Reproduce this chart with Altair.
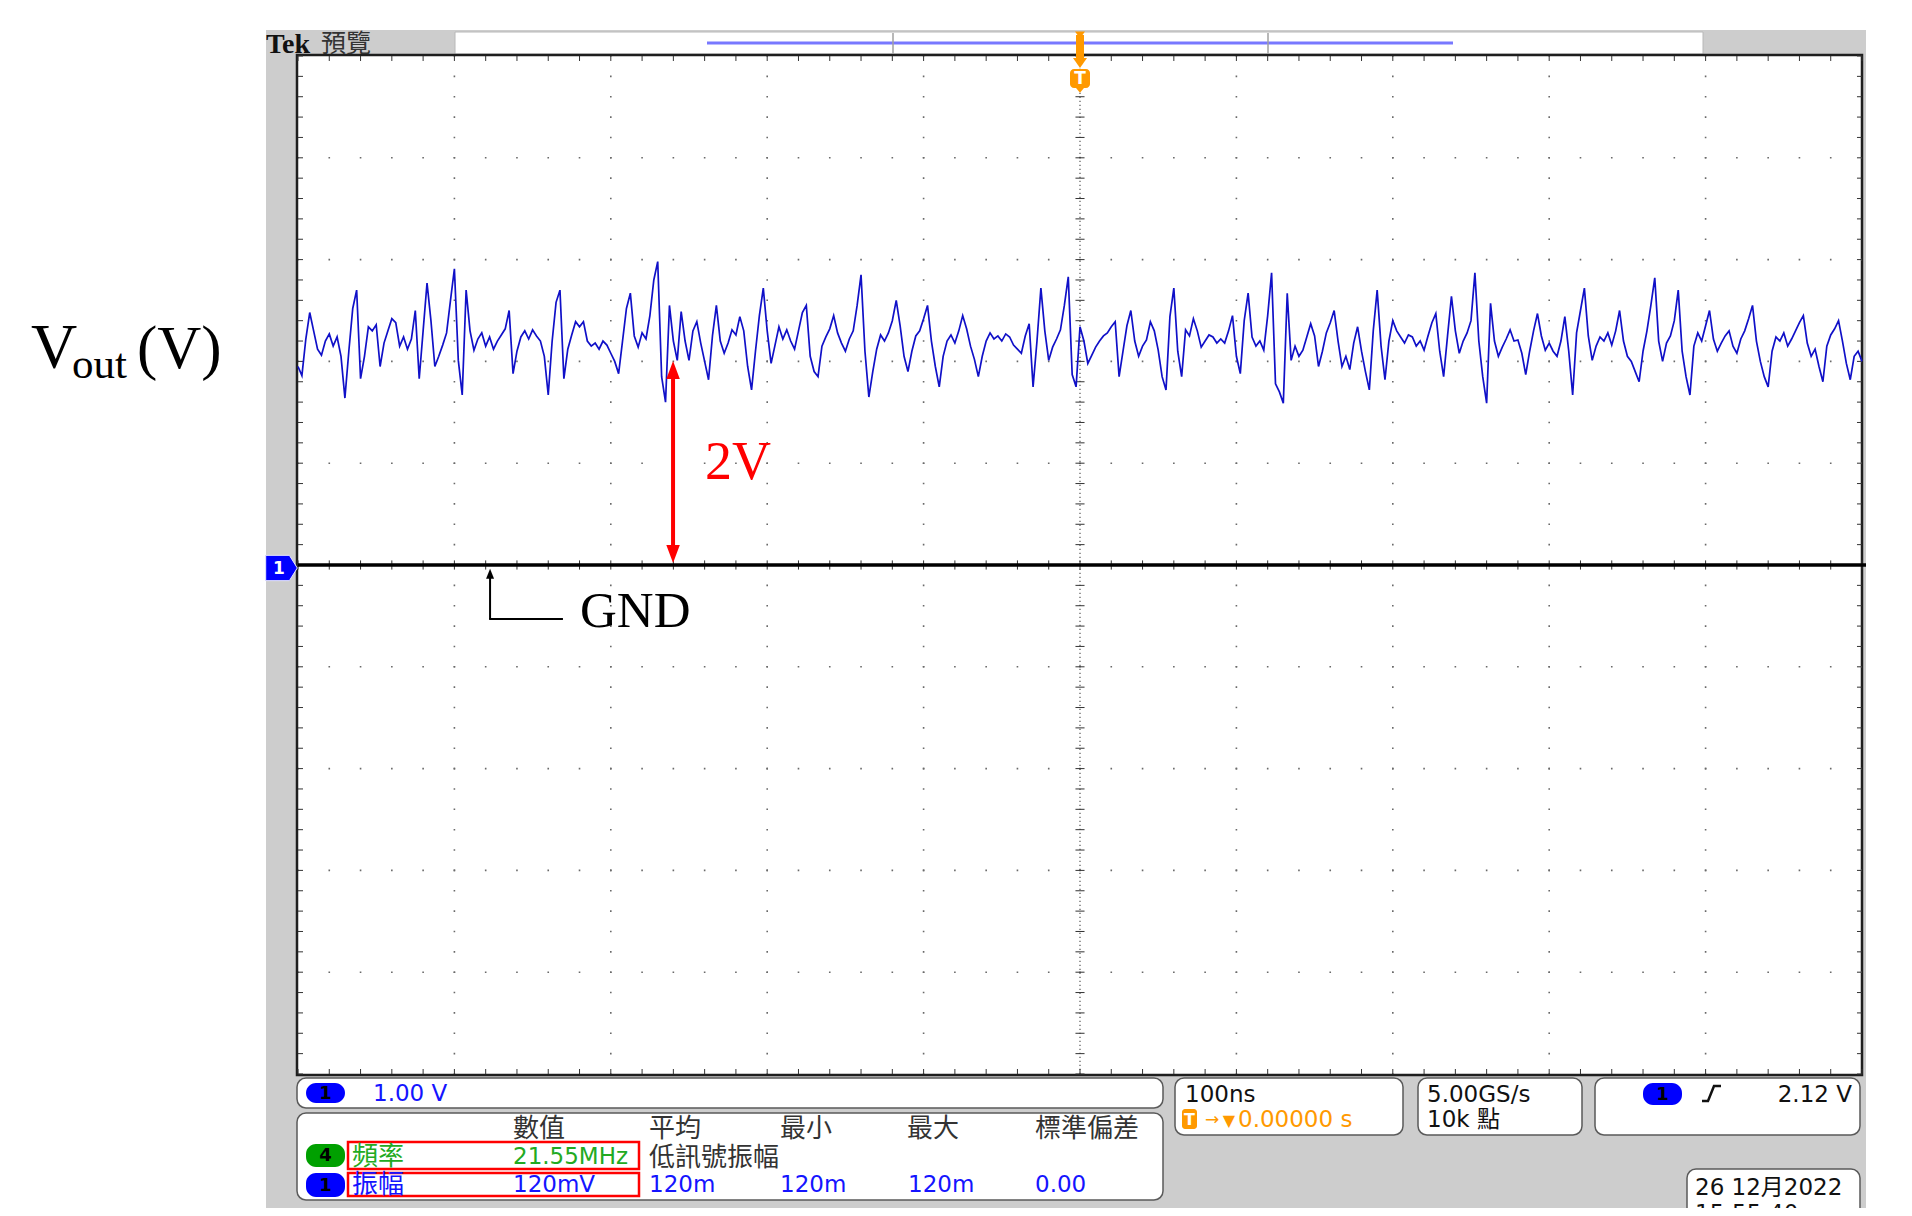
import altair as alt
import pandas as pd

# ---------------- data ----------------
SAMPLE_STEP_NS = 2.5          # displayed record decimated to 2.5 ns / point
T_START_NS = -500             # 10 div x 100 ns, trigger at centre
VOUT_V = [
    1.95, 1.86, 2.22, 2.48, 2.30, 2.12, 2.06, 2.20, 2.27, 2.15,
    2.24, 2.05, 1.64, 2.10, 2.52, 2.70, 1.83, 2.05, 2.34, 2.30,
    2.36, 1.95, 2.18, 2.30, 2.42, 2.38, 2.15, 2.24, 2.12, 2.22,
    2.50, 1.83, 2.30, 2.77, 2.40, 1.95, 2.05, 2.16, 2.28, 2.60,
    2.91, 2.01, 1.67, 2.70, 2.30, 2.11, 2.22, 2.28, 2.15, 2.24,
    2.12, 2.20, 2.26, 2.32, 2.50, 1.88, 2.10, 2.24, 2.30, 2.22,
    2.31, 2.25, 2.20, 2.05, 1.67, 2.20, 2.58, 2.70, 1.83, 2.12,
    2.26, 2.39, 2.34, 2.39, 2.20, 2.15, 2.18, 2.12, 2.20, 2.16,
    2.08, 2.00, 1.88, 2.20, 2.52, 2.67, 2.25, 2.14, 2.28, 2.22,
    2.45, 2.80, 2.98, 1.85, 1.60, 2.55, 2.20, 2.01, 2.49, 2.20,
    2.01, 2.30, 2.39, 2.18, 2.00, 1.82, 2.25, 2.55, 2.20, 2.08,
    2.18, 2.31, 2.26, 2.44, 2.30, 1.95, 1.72, 2.10, 2.45, 2.72,
    2.30, 1.98, 2.16, 2.34, 2.22, 2.31, 2.20, 2.12, 2.30, 2.48,
    2.55, 2.05, 1.90, 1.85, 2.15, 2.24, 2.32, 2.45, 2.28, 2.18,
    2.10, 2.22, 2.30, 2.55, 2.85, 2.10, 1.65, 1.90, 2.12, 2.26,
    2.20, 2.28, 2.40, 2.60, 2.35, 2.05, 1.90, 2.10, 2.25, 2.30,
    2.42, 2.55, 2.20, 1.95, 1.75, 2.05, 2.20, 2.26, 2.18, 2.30,
    2.45, 2.32, 2.15, 2.02, 1.85, 2.05, 2.20, 2.28, 2.22, 2.25,
    2.20, 2.27, 2.24, 2.16, 2.12, 2.08, 2.25, 2.37, 1.75, 2.20,
    2.72, 2.30, 2.01, 2.14, 2.22, 2.31, 2.55, 2.83, 1.87, 1.75,
    2.34, 2.20, 1.98, 2.06, 2.14, 2.20, 2.25, 2.28, 2.34, 2.39,
    1.85, 2.10, 2.35, 2.50, 2.20, 2.05, 2.15, 2.21, 2.39, 2.30,
    2.11, 1.85, 1.72, 2.44, 2.72, 2.10, 1.85, 2.31, 2.25, 2.42,
    2.30, 2.14, 2.20, 2.26, 2.24, 2.18, 2.22, 2.18, 2.30, 2.45,
    2.05, 1.88, 2.40, 2.67, 2.24, 2.15, 2.20, 2.11, 2.45, 2.87,
    1.78, 1.70, 1.59, 2.67, 2.01, 2.15, 2.05, 2.11, 2.24, 2.37,
    2.25, 1.95, 2.10, 2.28, 2.38, 2.50, 2.20, 1.95, 2.05, 1.92,
    2.18, 2.34, 2.10, 1.90, 1.72, 2.30, 2.70, 2.15, 1.82, 2.20,
    2.40, 2.30, 2.24, 2.18, 2.26, 2.24, 2.15, 2.20, 2.11, 2.25,
    2.38, 2.47, 2.10, 1.85, 2.25, 2.64, 2.30, 2.08, 2.20, 2.28,
    2.40, 2.87, 2.20, 1.85, 1.59, 2.57, 2.20, 2.05, 2.14, 2.22,
    2.31, 2.20, 2.21, 2.08, 1.87, 2.10, 2.30, 2.47, 2.25, 2.11,
    2.18, 2.10, 2.05, 2.20, 2.44, 2.10, 1.67, 2.28, 2.50, 2.72,
    2.25, 2.01, 2.15, 2.24, 2.20, 2.28, 2.16, 2.30, 2.50, 2.20,
    2.05, 2.00, 1.90, 1.80, 2.10, 2.30, 2.55, 2.82, 2.20, 2.00,
    2.18, 2.25, 2.40, 2.70, 2.10, 1.85, 1.67, 2.15, 2.28, 2.20,
    2.35, 2.50, 2.22, 2.10, 2.18, 2.25, 2.30, 2.15, 2.08, 2.22,
    2.30, 2.42, 2.55, 2.20, 2.00, 1.85, 1.75, 2.10, 2.24, 2.20,
    2.28, 2.15, 2.22, 2.30, 2.38, 2.45, 2.18, 2.05, 2.12, 1.95,
    1.80, 2.15, 2.26, 2.32, 2.40, 2.20, 1.98, 1.82, 2.05, 2.10,
    2.00,
]
TIME_NS = [T_START_NS + i * SAMPLE_STEP_NS for i in range(len(VOUT_V))]

GND_V = 0.0
LABEL_2V = "2V"
LABEL_GND = "GND"
YLABEL = ["V", "out", "(V)"]
TOP_LABEL = ["Tek", "預覽"]
CH_SCALE = "1.00 V"
MEAS_HEADERS = ["數值", "平均", "最小", "最大", "標準偏差"]
FREQ_ROW = ["頻率", "21.55MHz", "低訊號振幅"]
AMP_ROW = ["振幅", "120mV", "120m", "120m", "120m", "0.00"]
TIMEBASE = ["100ns", "0.00000 s"]
SAMPLING = ["5.00GS/s", "10k 點"]
TRIG_LEVEL = "2.12 V"
DATE_TIME = ["26 12月2022", "15:55:40"]

# ---------------- layout ----------------
W, H = 1564, 1018
OX, OY = 298, 56            # page position of the graticule


def P(X):
    return X - OX


def Q(Y):
    return Y - OY


XS = alt.Scale(domain=[-500, 500], nice=False, zero=False)
YS = alt.Scale(domain=[-5, 5], nice=False, zero=False)


def dx(f):
    return alt.X(f, type="quantitative", scale=XS, axis=None)


def dy(f):
    return alt.Y(f, type="quantitative", scale=YS, axis=None)


def pxe(f):
    return alt.X(f, type="quantitative", scale=None, axis=None)


def pye(f):
    return alt.Y(f, type="quantitative", scale=None, axis=None)


def rects(rows, radius=0, **mk):
    df = pd.DataFrame(rows, columns=["x", "x2", "y", "y2", "fill"])
    df["x"] = df["x"].map(P)
    df["x2"] = df["x2"].map(P)
    df["y"] = df["y"].map(Q)
    df["y2"] = df["y2"].map(Q)
    return alt.Chart(df).mark_rect(cornerRadius=radius, **mk).encode(
        x=pxe("x"), x2=alt.X2("x2"), y=pye("y"), y2=alt.Y2("y2"),
        fill=alt.Fill("fill:N", scale=None))


def texts(rows, font, align="left", weight="normal", baseline="alphabetic"):
    df = pd.DataFrame(rows, columns=["text", "x", "y", "color", "size"])
    df["x"] = df["x"].map(P)
    df["y"] = df["y"].map(Q)
    return alt.Chart(df).mark_text(font=font, align=align, baseline=baseline,
                                   fontWeight=weight).encode(
        x=pxe("x"), y=pye("y"), text="text:N",
        color=alt.Color("color:N", scale=None),
        size=alt.Size("size:Q", scale=None))


def prules(rows, **mk):
    df = pd.DataFrame(rows, columns=["x", "x2", "y", "y2"])
    df["x"] = df["x"].map(P)
    df["x2"] = df["x2"].map(P)
    df["y"] = df["y"].map(Q)
    df["y2"] = df["y2"].map(Q)
    return alt.Chart(df).mark_rule(**mk).encode(
        x=pxe("x"), x2=alt.X2("x2"), y=pye("y"), y2=alt.Y2("y2"))


def ppoint(X, Y, shape, size, color, **mk):
    df = pd.DataFrame({"x": [P(X)], "y": [Q(Y)]})
    return alt.Chart(df).mark_point(shape=shape, size=size, filled=True,
                                    color=color, opacity=1, **mk).encode(
        x=pxe("x"), y=pye("y"))


GRAY = "#cdcdcd"
BLUE = "#1414ff"
GREEN = "#22aa22"
ORANGE = "#ff9900"
DARK = "#111111"
MID = "#333333"
PANEL_FONT = "DejaVu Sans, Noto Sans CJK TC"
CJK_FONT = "Noto Sans CJK TC"
SERIF = "Liberation Serif"

layers = []

# frame
layers.append(rects([(266, 1866, 30, 1214, GRAY)]))
layers.append(rects([(455, 1703, 32, 54, "#ffffff")], stroke="#b8b8b8", strokeWidth=1))
layers.append(rects([(297, 1862, 55, 1075, "#ffffff")], stroke="#1e1e1e", strokeWidth=2.5))

# graticule: dotted division lines
GRID_T = [-400, -300, -200, -100, 100, 200, 300, 400]
GRID_V = [-4, -3, -2, -1, 1, 2, 3, 4]
vg = pd.DataFrame({"t": GRID_T, "v1": -5, "v2": 5})
layers.append(alt.Chart(vg).mark_rule(color="#6a6a6a", strokeWidth=1.6,
                                      strokeDash=[1.6, 18.76], strokeDashOffset=0.8)
              .encode(x=dx("t"), y=dy("v1"), y2=alt.Y2("v2")))
hg = pd.DataFrame({"v": GRID_V, "t1": -500, "t2": 500})
layers.append(alt.Chart(hg).mark_rule(color="#6a6a6a", strokeWidth=1.6,
                                      strokeDash=[1.6, 29.68], strokeDashOffset=0.8)
              .encode(y=dy("v"), x=dx("t1"), x2=alt.X2("t2")))
cg = pd.DataFrame({"t": [0], "v1": [-5], "v2": [5]})
layers.append(alt.Chart(cg).mark_rule(color="#555555", strokeWidth=1.2, strokeDash=[1.2, 2.8])
              .encode(x=dx("t"), y=dy("v1"), y2=alt.Y2("v2")))

TICK_T = [-500 + 20 * k for k in range(51)]
TICK_V = [round(-5 + 0.2 * k, 2) for k in range(51)]
tick_rows_v = []   # vertical ticks (along horizontal edges / centre line)
for t in TICK_T:
    tick_rows_v.append((t, 5.0, 4.951))
    tick_rows_v.append((t, -5.0, -4.951))
    tick_rows_v.append((t, -0.045, 0.045))
tv = pd.DataFrame(tick_rows_v, columns=["t", "v1", "v2"])
layers.append(alt.Chart(tv).mark_rule(color="#333333", strokeWidth=1)
              .encode(x=dx("t"), y=dy("v1"), y2=alt.Y2("v2")))
tick_rows_h = []
for v in TICK_V:
    tick_rows_h.append((v, -500.0, -496.8))
    tick_rows_h.append((v, 500.0, 496.8))
    tick_rows_h.append((v, -2.9, 2.9))
th = pd.DataFrame(tick_rows_h, columns=["v", "t1", "t2"])
layers.append(alt.Chart(th).mark_rule(color="#333333", strokeWidth=1)
              .encode(y=dy("v"), x=dx("t1"), x2=alt.X2("t2")))

# waveform
wave = pd.DataFrame({"t": TIME_NS, "v": VOUT_V})
layers.append(alt.Chart(wave).mark_line(color="#1010c8", strokeWidth=1.7)
              .encode(x=dx("t"), y=dy("v")))

# GND / channel 1 reference line
layers.append(alt.Chart(pd.DataFrame({"v": [GND_V]})).mark_rule(color="#000000", strokeWidth=3.5)
              .encode(y=dy("v"), x=alt.value(0), x2=alt.value(P(1866))))

# channel 1 marker
PENT = "M -1 -0.8 L 0.5 -0.8 L 1 0 L 0.5 0.8 L -1 0.8 Z"
layers.append(ppoint(281.5, 568, PENT, 1000, "#0000ff", stroke="#e8e8ff", strokeWidth=1))
layers.append(texts([("1", 279, 569, "#ffffff", 17)], "DejaVu Sans", align="center",
                    weight="bold", baseline="middle"))

# top strip
layers.append(prules([(707, 1453, 43, 43)], color="#7878ff", strokeWidth=3))
layers.append(prules([(893, 893, 33, 54), (1268, 1268, 33, 54)], color="#a0a0a0", strokeWidth=1.5))
layers.append(texts([(TOP_LABEL[0], 266, 53, DARK, 28)], SERIF, weight="bold"))
layers.append(texts([(TOP_LABEL[1], 321, 52, MID, 25)], CJK_FONT))

# trigger position marker
layers.append(ppoint(1080, 35, "M -1 -0.7 L 1 -0.7 L 0 0.7 Z", 100, ORANGE))
layers.append(rects([(1076, 1084, 35, 59, ORANGE)]))
layers.append(ppoint(1080, 63, "M -1 -0.7 L 1 -0.7 L 0 0.7 Z", 196, ORANGE))
layers.append(rects([(1070, 1090, 69, 88, ORANGE)], radius=4))
layers.append(ppoint(1080, 89, "M -1 -0.5 L 1 -0.5 L 0 0.7 Z", 110, ORANGE))
layers.append(texts([("T", 1080, 79, "#ffffff", 17)], "DejaVu Sans", align="center",
                    weight="bold", baseline="middle"))

# red 2V arrow
ta = -260.2
layers.append(alt.Chart(pd.DataFrame({"t": [ta], "v1": [0.12], "v2": [1.9]}))
              .mark_rule(color="#ff0000", strokeWidth=4)
              .encode(x=dx("t"), y=dy("v1"), y2=alt.Y2("v2")))
heads = pd.DataFrame({"t": [ta], "v": [1.915]})
layers.append(alt.Chart(heads).mark_point(shape="M 0 -1 L 0.75 1 L -0.75 1 Z", size=324,
                                          filled=True, color="#ff0000", opacity=1)
              .encode(x=dx("t"), y=dy("v")))
heads2 = pd.DataFrame({"t": [ta], "v": [0.108]})
layers.append(alt.Chart(heads2).mark_point(shape="M 0 1 L 0.75 -1 L -0.75 -1 Z", size=324,
                                           filled=True, color="#ff0000", opacity=1)
              .encode(x=dx("t"), y=dy("v")))
layers.append(alt.Chart(pd.DataFrame({"t": [-239.8], "v": [0.845], "s": [LABEL_2V]}))
              .mark_text(font=SERIF, fontSize=54, color="#ff0000", align="left", baseline="alphabetic")
              .encode(x=dx("t"), y=dy("v"), text="s:N"))

# GND pointer
tg = -377.2
layers.append(alt.Chart(pd.DataFrame({"t": [tg], "v1": [-0.1], "v2": [-0.53]}))
              .mark_rule(color="#000000", strokeWidth=2)
              .encode(x=dx("t"), y=dy("v1"), y2=alt.Y2("v2")))
layers.append(alt.Chart(pd.DataFrame({"v": [-0.53], "t1": [tg - 0.6], "t2": [-330.6]}))
              .mark_rule(color="#000000", strokeWidth=2)
              .encode(y=dy("v"), x=dx("t1"), x2=alt.X2("t2")))
layers.append(alt.Chart(pd.DataFrame({"t": [tg], "v": [-0.085]}))
              .mark_point(shape="M 0 -1 L 0.8 1 L -0.8 1 Z", size=100, filled=True,
                          color="#000000", opacity=1)
              .encode(x=dx("t"), y=dy("v")))
layers.append(alt.Chart(pd.DataFrame({"t": [-319.7], "v": [-0.61], "s": [LABEL_GND]}))
              .mark_text(font=SERIF, fontSize=51, color="#000000", align="left", baseline="alphabetic")
              .encode(x=dx("t"), y=dy("v"), text="s:N"))

# y label outside the screen
layers.append(texts([(YLABEL[0], 31, 368, "#000000", 64),
                     (YLABEL[1], 72, 378, "#000000", 43),
                     (YLABEL[2], 137, 368, "#000000", 61)], SERIF))

# bottom read-out panels
PANEL_BOXES = [(297, 1163, 1078, 1108, "#ffffff"), (297, 1163, 1113, 1200, "#ffffff"),
               (1175, 1403, 1078, 1135, "#ffffff"), (1418, 1582, 1078, 1135, "#ffffff"),
               (1595, 1860, 1078, 1135, "#ffffff"), (1687, 1860, 1169, 1240, "#ffffff")]
layers.append(rects(PANEL_BOXES, radius=9, stroke="#5a5a5a", strokeWidth=1.5))
BADGES = [(306, 345, 1083, 1103, "#0000ff"), (306, 345, 1144, 1167, "#00a000"),
          (306, 345, 1173, 1197, "#0000ff"), (1643, 1682, 1083, 1105, "#0000ff")]
layers.append(rects(BADGES, radius=10))
layers.append(texts([("1", 325.5, 1094, "#000000", 18), ("4", 325.5, 1156, "#000000", 18),
                     ("1", 325.5, 1186, "#000000", 18), ("1", 1662.5, 1095, "#000000", 18)],
                    "DejaVu Sans", align="center", weight="bold", baseline="middle"))
layers.append(rects([(348, 639, 1142, 1169, "#ffffff"), (348, 639, 1173, 1196, "#ffffff")],
                    fillOpacity=0, stroke="#ff0000", strokeWidth=2.5))
layers.append(rects([(1182, 1197, 1109, 1129, ORANGE)], radius=3))
layers.append(texts([("T", 1189.5, 1120, "#ffffff", 16)], "DejaVu Sans", align="center",
                    weight="bold", baseline="middle"))
layers.append(texts([("→", 1212, 1125, ORANGE, 17), ("▼", 1229, 1126, ORANGE, 16)],
                    "DejaVu Sans", align="center"))

HDR_X = [513, 649, 780, 907, 1035]
AMP_X = [352, 513, 649, 780, 908, 1035]
panel_rows = [(CH_SCALE, 373, 1101, BLUE, 23)]
panel_rows += [(h, x, 1137, MID, 26) for h, x in zip(MEAS_HEADERS, HDR_X)]
panel_rows += [(FREQ_ROW[0], 352, 1165, GREEN, 26), (FREQ_ROW[1], 513, 1164, GREEN, 23),
               (FREQ_ROW[2], 649, 1166, MID, 26)]
panel_rows += [(a, x, 1193 if i == 0 else 1192, BLUE, 26 if i == 0 else 23)
               for i, (a, x) in enumerate(zip(AMP_ROW, AMP_X))]
panel_rows += [(TIMEBASE[0], 1185, 1102, DARK, 23), (TIMEBASE[1], 1238, 1127, ORANGE, 23),
               (SAMPLING[0], 1427, 1102, DARK, 23), (SAMPLING[1], 1427, 1127, DARK, 23),
               (DATE_TIME[0], 1695, 1195, DARK, 23), (DATE_TIME[1], 1695, 1221, DARK, 23)]
layers.append(texts(panel_rows, PANEL_FONT))
layers.append(texts([(TRIG_LEVEL, 1852, 1102, DARK, 23)], PANEL_FONT, align="right"))

# rising-edge trigger glyph
edge = pd.DataFrame({"x": [P(1702), P(1708), P(1714), P(1721)],
                     "y": [Q(1101), Q(1101), Q(1086), Q(1086)], "o": [0, 1, 2, 3]})
layers.append(alt.Chart(edge).mark_line(color=DARK, strokeWidth=2.5)
              .encode(x=pxe("x"), y=pye("y"), order="o:Q"))

chart = (alt.layer(*layers)
         .resolve_scale(x="independent", y="independent")
         .properties(width=W, height=H,
                     padding={"left": 290, "top": 48, "right": 42, "bottom": 134},
                     autosize=alt.AutoSizeParams(type="none"),
                     background="#ffffff")
         .configure_view(strokeWidth=0))

chart.save("out.html", embed_options={"renderer": "svg", "actions": False})
